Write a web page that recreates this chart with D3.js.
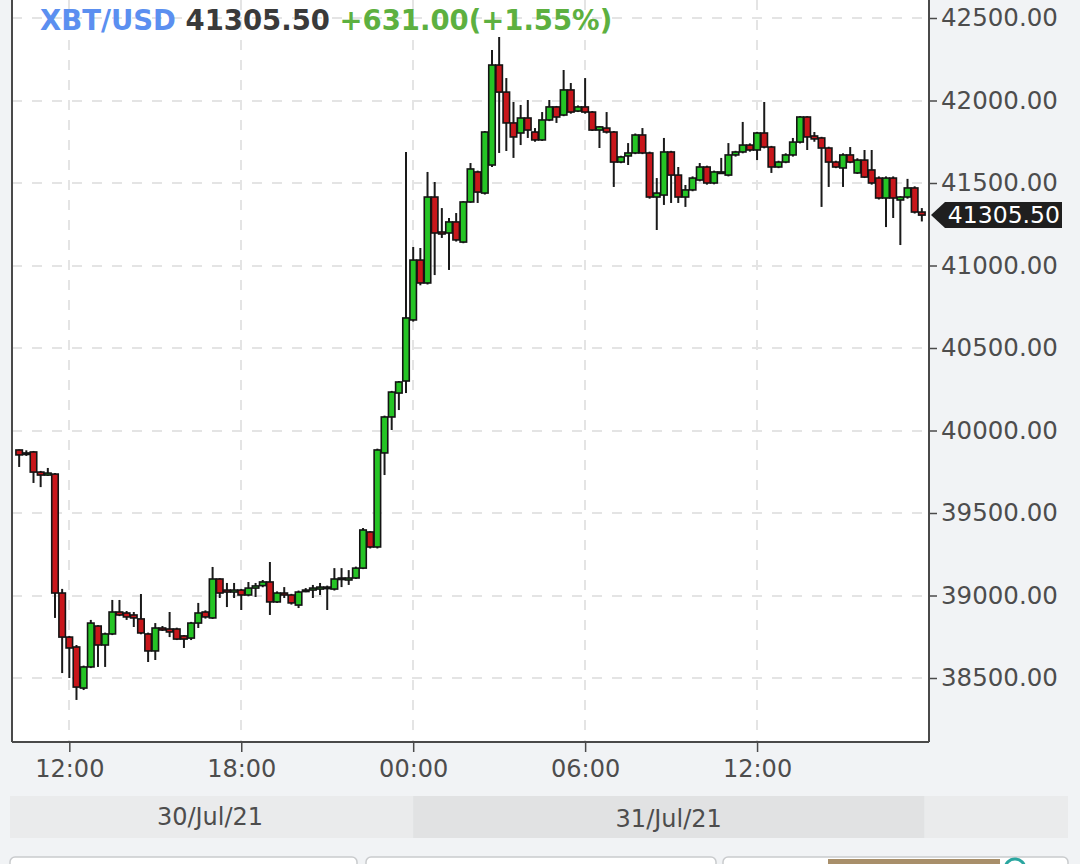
<!DOCTYPE html>
<html><head><meta charset="utf-8">
<script src="https://cdn.jsdelivr.net/npm/d3@7"></script>
<style>html,body{margin:0;padding:0;background:#f1f3f5;} svg{display:block;font-family:"DejaVu Sans",sans-serif;}</style>
</head><body><svg id="c" width="1080" height="864"></svg>
<script>
// ---- data ----
const times = [
"07-30 10:15","07-30 10:30","07-30 10:45","07-30 11:00","07-30 11:15","07-30 11:30","07-30 11:45","07-30 12:00","07-30 12:15","07-30 12:30",
"07-30 12:45","07-30 13:00","07-30 13:15","07-30 13:30","07-30 13:45","07-30 14:00","07-30 14:15","07-30 14:30","07-30 14:45","07-30 15:00",
"07-30 15:15","07-30 15:30","07-30 15:45","07-30 16:00","07-30 16:15","07-30 16:30","07-30 16:45","07-30 17:00","07-30 17:15","07-30 17:30",
"07-30 17:45","07-30 18:00","07-30 18:15","07-30 18:30","07-30 18:45","07-30 19:00","07-30 19:15","07-30 19:30","07-30 19:45","07-30 20:00",
"07-30 20:15","07-30 20:30","07-30 20:45","07-30 21:00","07-30 21:15","07-30 21:30","07-30 21:45","07-30 22:00","07-30 22:15","07-30 22:30",
"07-30 22:45","07-30 23:00","07-30 23:15","07-30 23:30","07-30 23:45","07-31 00:00","07-31 00:15","07-31 00:30","07-31 00:45","07-31 01:00",
"07-31 01:15","07-31 01:30","07-31 01:45","07-31 02:00","07-31 02:15","07-31 02:30","07-31 02:45","07-31 03:00","07-31 03:15","07-31 03:30",
"07-31 03:45","07-31 04:00","07-31 04:15","07-31 04:30","07-31 04:45","07-31 05:00","07-31 05:15","07-31 05:30","07-31 05:45","07-31 06:00",
"07-31 06:15","07-31 06:30","07-31 06:45","07-31 07:00","07-31 07:15","07-31 07:30","07-31 07:45","07-31 08:00","07-31 08:15","07-31 08:30",
"07-31 08:45","07-31 09:00","07-31 09:15","07-31 09:30","07-31 09:45","07-31 10:00","07-31 10:15","07-31 10:30","07-31 10:45","07-31 11:00",
"07-31 11:15","07-31 11:30","07-31 11:45","07-31 12:00","07-31 12:15","07-31 12:30","07-31 12:45","07-31 13:00","07-31 13:15","07-31 13:30",
"07-31 13:45","07-31 14:00","07-31 14:15","07-31 14:30","07-31 14:45","07-31 15:00","07-31 15:15","07-31 15:30","07-31 15:45","07-31 16:00",
"07-31 16:15","07-31 16:30","07-31 16:45","07-31 17:00","07-31 17:15","07-31 17:30","07-31 17:45"];

const opens = [
39882,39858,39870,39748,39730,39736,39015,38748,38688,38439,
38567,38815,38700,38767,38900,38894,38882,38858,38767,38664,
38803,38797,38797,38755,38742,38833,38900,38864,39100,39033,
39021,39033,39003,39045,39060,39082,38961,39015,39003,38942,
39027,39033,39039,39045,39039,39100,39094,39106,39166,39385,
39294,39864,40082,40227,40300,40670,41033,40894,41415,41203,
41197,41264,41142,41385,41567,41439,41609,42215,42051,41864,
41803,41894,41809,41761,41882,41961,41912,42064,41936,41961,
41930,41821,41833,41809,41627,41664,41682,41791,41682,41415,
41427,41688,41548,41415,41458,41518,41597,41500,41561,41548,
41670,41688,41730,41700,41803,41718,41597,41627,41670,41748,
41900,41785,41773,41712,41627,41591,41670,41561,41639,41579,
41530,41409,41530,41397,41415,41470,41324];

const highs = [
39885,39880,39876,39755,39773,39742,39040,38755,38700,38575,
38852,38820,38775,38973,38973,38906,38900,39009,38775,38833,
38815,38900,38805,38760,38840,38955,38910,39173,39105,39076,
39076,39040,39082,39076,39094,39203,39025,39051,39010,39030,
39045,39064,39076,39060,39166,39166,39154,39175,39409,39390,
39890,40090,40240,40300,41688,41112,41106,41567,41506,41348,
41288,41318,41390,41621,41575,41815,42306,42385,42136,41991,
41973,42003,41833,41930,42003,41967,42185,42106,41970,42136,
41936,41845,41930,41815,41665,41742,41800,41833,41690,41530,
41773,41695,41597,41488,41540,41621,41605,41575,41652,41742,
41695,41870,41740,41810,41991,41725,41635,41680,41773,41905,
41905,41809,41780,41720,41635,41680,41718,41650,41700,41700,
41540,41540,41540,41420,41525,41480,41348];

const lows = [
39779,39846,39682,39657,39725,38864,38530,38500,38367,38427,
38560,38567,38567,38760,38875,38852,38809,38765,38597,38609,
38785,38748,38730,38682,38730,38803,38860,38858,38985,38930,
38985,38912,38995,38991,39050,38882,38955,38985,38945,38924,
39020,38985,39003,38912,39030,39051,39064,39100,39160,39285,
39285,39730,40003,40124,40227,40660,40880,40885,40942,41167,
40973,41145,41135,41380,41379,41430,41597,41682,41694,41652,
41730,41773,41750,41755,41875,41864,41905,41920,41930,41920,
41815,41712,41800,41476,41620,41609,41675,41675,41405,41215,
41367,41379,41379,41355,41450,41510,41490,41492,41555,41540,
41660,41680,41690,41639,41710,41561,41590,41620,41660,41740,
41700,41750,41355,41476,41590,41476,41620,41555,41530,41490,
41400,41233,41288,41124,41405,41315,41267];

const closes = [
39852,39864,39748,39730,39742,39015,38748,38682,38445,38567,
38833,38700,38767,38900,38882,38870,38864,38773,38664,38803,
38791,38779,38736,38736,38833,38894,38870,39100,39015,39021,
39033,39003,39045,39058,39082,38961,39015,39003,38955,39021,
39033,39045,39051,39051,39100,39106,39106,39166,39397,39294,
39882,40082,40233,40294,40682,41033,40894,41415,41197,41191,
41264,41155,41385,41585,41445,41809,42215,42051,41864,41779,
41894,41821,41761,41882,41961,41900,42064,41930,41961,41930,
41821,41840,41809,41627,41658,41682,41791,41682,41415,41439,
41688,41548,41415,41458,41530,41597,41500,41567,41567,41670,
41688,41730,41700,41803,41718,41597,41627,41670,41748,41900,
41779,41767,41712,41627,41597,41670,41627,41639,41536,41500,
41409,41530,41409,41415,41470,41324,41305.5];

const yTickValues = [38500,39000,39500,40000,40500,41000,41500,42000,42500];
const xTickTimes = ["07-30 12:00","07-30 18:00","07-31 00:00","07-31 06:00","07-31 12:00"];
const xTickLabels = ["12:00","18:00","00:00","06:00","12:00"];
const xDomain = ["07-30 10:00","07-31 18:00"];
const dayLabels = ["30/Jul/21","31/Jul/21"];
const daySpans = [["07-30 10:00","07-31 00:00"],["07-31 00:00","07-31 17:50"]];
const symbol = "XBT/USD";
const lastPrice = 41305.50;
const change = 631.00;
const changePct = 1.55;

// ---- drawing ----
const parse = d3.timeParse("%m-%d %H:%M");
const svg = d3.select("#c");
const L = 12, R = 929, B = 742, T = 0;
const x = d3.scaleTime().domain(xDomain.map(parse)).range([L, R]);
const y = d3.scaleLinear().domain([38500, 42500]).range([678, 18]);

const data = times.map((t,i)=>({t:parse(t),o:opens[i],h:highs[i],l:lows[i],c:closes[i]}));

svg.append("rect").attr("width",1080).attr("height",864).attr("fill","#f1f3f5");
svg.append("rect").attr("x",L).attr("y",T).attr("width",R-L).attr("height",B-T).attr("fill","#ffffff");

// grid
const grid = svg.append("g").attr("stroke","#e4e4e4").attr("stroke-width",2).attr("stroke-dasharray","10,10");
grid.selectAll("line.h").data(yTickValues).join("line")
  .attr("x1",L).attr("x2",R).attr("y1",d=>Math.round(y(d))).attr("y2",d=>Math.round(y(d)));
grid.selectAll("line.v").data(xTickTimes).join("line")
  .attr("x1",d=>Math.round(x(parse(d)))).attr("x2",d=>Math.round(x(parse(d))))
  .attr("y1",T).attr("y2",B);

// candles
const bw = 6.5;
const cg = svg.append("g");
const cs = cg.selectAll("g").data(data).join("g");
cs.append("line")
  .attr("x1",d=>x(d.t)).attr("x2",d=>x(d.t))
  .attr("y1",d=>y(d.h)).attr("y2",d=>y(d.l))
  .attr("stroke","#1a1a1a").attr("stroke-width",2);
cs.append("rect")
  .attr("x",d=>x(d.t)-bw/2)
  .attr("y",d=>y(Math.max(d.o,d.c)))
  .attr("width",bw)
  .attr("height",d=>Math.max(1.5,Math.abs(y(d.o)-y(d.c))))
  .attr("fill",d=>d.c>=d.o?"#25c425":"#c8161b")
  .attr("stroke","#141414").attr("stroke-width",1.6);

// axes lines
svg.append("line").attr("x1",L).attr("x2",L).attr("y1",T).attr("y2",B).attr("stroke","#4a4a4a").attr("stroke-width",2);
svg.append("line").attr("x1",L).attr("x2",R).attr("y1",B).attr("y2",B).attr("stroke","#4a4a4a").attr("stroke-width",2);

// right axis
const yAxis = d3.axisRight(y).tickValues(yTickValues).tickSize(8).tickPadding(4).tickFormat(d3.format(".2f"));
const ya = svg.append("g").attr("transform",`translate(${R},0)`).call(yAxis);
ya.select(".domain").attr("d",`M0,${T}V${B}`).attr("stroke","#4a4a4a").attr("stroke-width",2);
ya.selectAll(".tick line").attr("stroke","#4a4a4a").attr("stroke-width",1.5);
ya.selectAll(".tick text").attr("font-size",24.5).attr("fill","#4d4d4d").attr("font-family","DejaVu Sans");

// bottom axis
const xAxis = d3.axisBottom(x).tickValues(xTickTimes.map(parse)).tickSize(10).tickPadding(8)
  .tickFormat((d,i)=>xTickLabels[i]);
const xa = svg.append("g").attr("transform",`translate(0,${B})`).call(xAxis);
xa.select(".domain").remove();
xa.selectAll(".tick line").attr("stroke","#4a4a4a").attr("stroke-width",1.5);
xa.selectAll(".tick text").attr("font-size",24).attr("fill","#4d4d4d").attr("font-family","DejaVu Sans");

// date bar
svg.append("rect").attr("x",10).attr("y",796).attr("width",1058).attr("height",42).attr("fill","#eaebec");
svg.append("rect").attr("x",x(parse(daySpans[1][0]))).attr("y",796)
  .attr("width",x(parse(daySpans[1][1]))-x(parse(daySpans[1][0]))).attr("height",42).attr("fill","#e1e2e3");
svg.selectAll("text.day").data(dayLabels).join("text").attr("class","day")
  .attr("x",(d,i)=> i===0 ? 210 : (x(parse(daySpans[1][0]))+x(parse(daySpans[1][1])))/2)
  .attr("y",(d,i)=> i===0 ? 825 : 827)
  .attr("text-anchor","middle").attr("font-size",24).attr("fill","#4d4d4d").text(d=>d);

// bottom tabs (partially visible)
[[10,357],[366,716],[723,1068]].forEach(([a,b])=>{
  svg.append("rect").attr("x",a).attr("y",857).attr("width",b-a).attr("height",20).attr("rx",5)
    .attr("fill","#ffffff").attr("stroke","#c9cbcd").attr("stroke-width",1.5);
});
svg.append("rect").attr("x",828).attr("y",859).attr("width",172).attr("height",8).attr("fill","#a88f6a");
svg.append("circle").attr("cx",1015).attr("cy",869).attr("r",10).attr("fill","none").attr("stroke","#2aa6a0").attr("stroke-width",3);

// last price tag
const ly = y(lastPrice);
svg.append("path")
  .attr("d",`M${R+2},${ly} L${R+16},${ly-13} H1062 V${ly+13} H${R+16} Z`)
  .attr("fill","#1f1f1f");
svg.append("text").attr("x",1060).attr("y",ly+8).attr("text-anchor","end")
  .attr("font-size",23.5).attr("fill","#ffffff").text(d3.format(".2f")(lastPrice));

// title
const title = svg.append("text").attr("x",40).attr("y",30).attr("font-size",27.5).attr("font-weight","bold");
title.append("tspan").attr("fill","#5b8ff0").text(symbol + " ");
title.append("tspan").attr("fill","#3a3a3a").text(d3.format(".2f")(lastPrice) + " ");
title.append("tspan").attr("fill","#5db040").text("+" + d3.format(".2f")(change) + "(+" + d3.format(".2f")(changePct) + "%)");
</script></body></html>
